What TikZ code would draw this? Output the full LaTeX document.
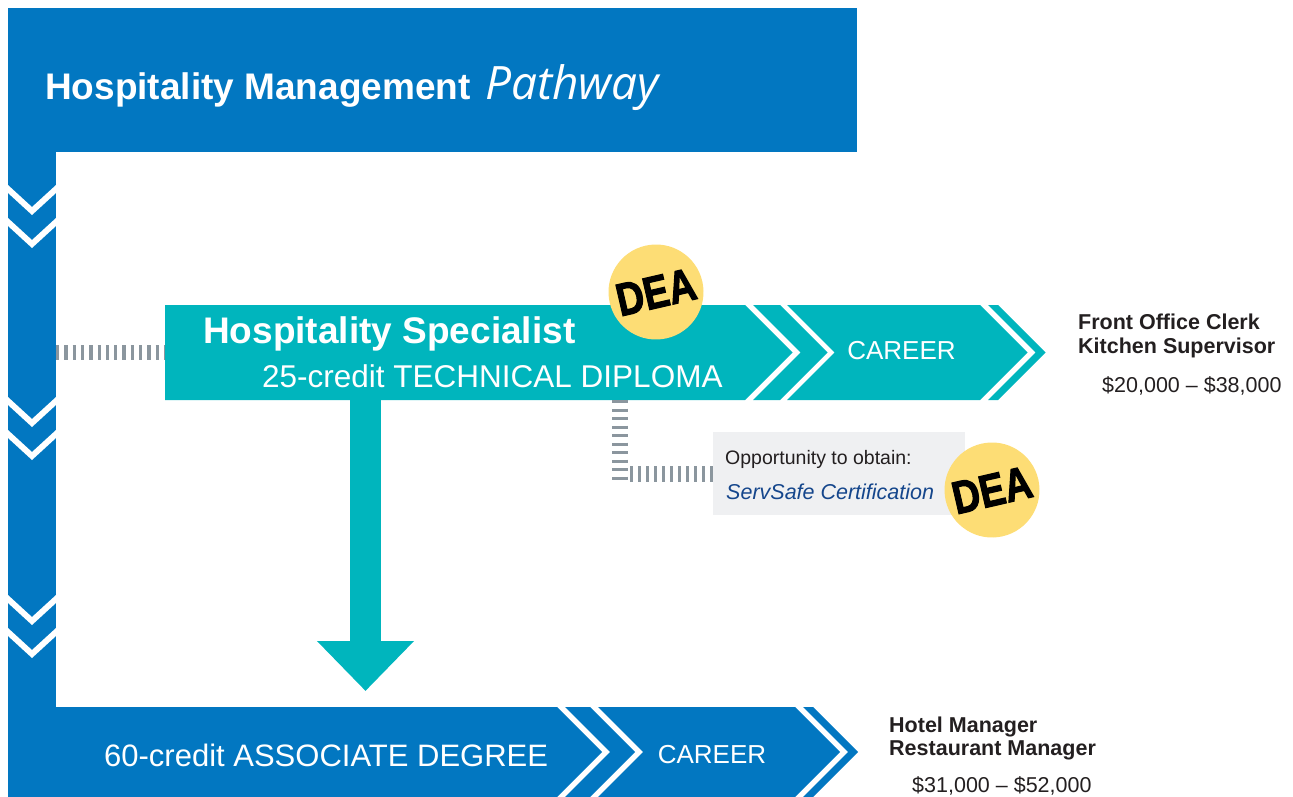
\documentclass[tikz,border=0pt]{standalone}
\usepackage{fontspec}
\setmainfont{Liberation Sans}
\newfontfamily\handfont{Open Sans}
\newfontfamily\deafont{Liberation Sans}[BoldFeatures={FakeBold=2.5}]
\usetikzlibrary{positioning}
\usetikzlibrary{arrows.meta}
\definecolor{pathblue}{RGB}{2,119,193}
\definecolor{pathteal}{RGB}{0,181,189}
\definecolor{dashgray}{RGB}{139,150,158}
\definecolor{boxgray}{RGB}{239,240,242}
\definecolor{deayellow}{RGB}{253,221,117}
\definecolor{servblue}{RGB}{21,70,140}
\definecolor{jobtext}{RGB}{35,31,32}
\newcommand{\fsz}[1]{\fontsize{#1}{#1}\selectfont}
\newcommand{\chev}[6]{\fill[#1] (#2,#4) -- (#3,#4) -- ({#3+#5-#4},#5) -- (#3,#6) -- (#2,#6) -- ({#2+#5-#4},#5) -- cycle;}
\newcommand{\dealabel}{\scalebox{0.95}[1.15]{DEA}}
\tikzset{
  lbl/.style={inner sep=0pt, text=white},
  dea/.style={circle, fill=deayellow, minimum size=95pt, inner sep=0pt, rotate=13, text=black, font=\deafont\bfseries\fsz{40}},
  dashconn/.style={draw=dashgray, line width=15pt, dash pattern=on 3.3pt off 5pt},
  droparrow/.style={draw=pathteal, line width=31pt, -{Triangle[length=50pt,width=94pt]}},
  job/.style={inner sep=0pt, anchor=base west, text=jobtext, font=\bfseries\fsz{21.5}},
  pay/.style={inner sep=0pt, anchor=base west, text=jobtext, font=\fsz{21.5}}
}
\begin{document}
\begin{tikzpicture}[line join=miter,x=1pt,y=-1pt]
\useasboundingbox (0,0) rectangle (1293,797);
\fill[pathblue] (8,8) rectangle (857,152);
\fill[pathblue] (8,150) rectangle (56,708);
\fill[pathblue] (8,707) -- (557,707) -- (602,752) -- (557,797) -- (8,797) -- cycle;
\chev{pathblue}{565}{590}{707}{752}{797}
\chev{pathblue}{598}{795}{707}{752}{797}
\chev{pathblue}{803}{813}{707}{752}{797}
\foreach \y in {185,218,397,430,595,628}
\fill[white] (8,\y) -- (32,\y+22) -- (56,\y) -- (56,\y+8) -- (32,\y+30) -- (8,\y+8) -- cycle;
\fill[pathteal] (165,305) -- (745,305) -- (792.5,352.5) -- (745,400) -- (165,400) -- cycle;
\chev{pathteal}{753}{780}{305}{352.5}{400}
\chev{pathteal}{787}{980}{305}{352.5}{400}
\chev{pathteal}{988}{998}{305}{352.5}{400}
\coordinate (spine) at (56,352.5);
\coordinate (diploma) at (165,352.5);
\coordinate (diplomafoot) at (620,400);
\coordinate (elbow) at (620,484);
\coordinate (diplomadrop) at (365.5,400);
\coordinate (degreedrop) at (365.5,691);
\draw[droparrow] (diplomadrop) -- (degreedrop);
\draw[dashconn] (spine) -- (diploma);
\node[fill=boxgray, minimum width=252, minimum height=83, inner sep=0pt, anchor=north west] (servbox) at (713,432) {};
\draw[dashconn, line width=16pt, dash pattern=on 3pt off 5.5pt] (diplomafoot) -- (elbow);
\draw[dashconn, line width=16pt, dash pattern=on 3pt off 5pt] ([xshift=10pt]elbow |- servbox.west) -- (servbox.west);
\node[dea] (deaA) at (656,292) {\dealabel};
\node[dea] (deaB) at (992,490) {\dealabel};
\node[lbl, anchor=base west, font=\bfseries\fsz{37}] (title) at (45,100) {Hospitality Management};
\node[lbl, anchor=base west, font=\handfont\itshape\fsz{46}, base right=14pt of title] (titlehand) {Pathway};
\node[lbl, anchor=base west, font=\bfseries\fsz{37}] (specialist) at (203,343) {Hospitality Specialist};
\node[lbl, anchor=base west, font=\fsz{31.5}] (diplomatext) at (262,387) {25-credit TECHNICAL DIPLOMA};
\node[lbl, font=\fsz{26}] (careerA) at (901.5,350.5) {CAREER};
\node[lbl, anchor=base west, font=\fsz{31}] (degree) at (104,766) {60-credit ASSOCIATE DEGREE};
\node[lbl, font=\fsz{26}] (careerB) at (712,754.5) {CAREER};
\node[anchor=base west, inner sep=0pt, text=jobtext, font=\fsz{19.5}] (opp) at (725,464) {Opportunity to obtain:};
\node[anchor=base west, inner sep=0pt, text=servblue, font=\itshape\fsz{21.5}] (servsafe) at (726,499) {ServSafe Certification};
\node[job] (jobA) at (1078,329) {Front Office Clerk};
\node[job] (jobAb) at (1078,353) {Kitchen Supervisor};
\node[pay] (payA) at (1102,392) {\$20,000 -- \$38,000};
\node[job] (jobB) at (889,732) {Hotel Manager};
\node[job] (jobBb) at (889,755) {Restaurant Manager};
\node[pay] (payB) at (912,792) {\$31,000 -- \$52,000};
\end{tikzpicture}
\end{document}
